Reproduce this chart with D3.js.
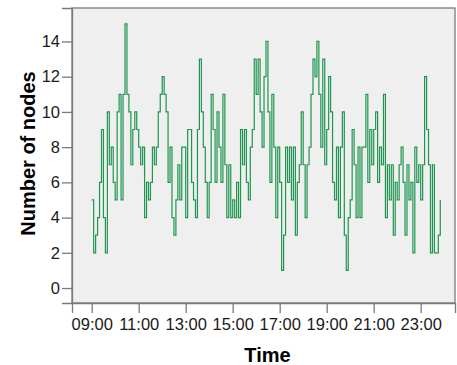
<!DOCTYPE html>
<html>
<head>
<meta charset="utf-8">
<script src="https://cdn.jsdelivr.net/npm/d3@7"></script>
<style>
  html, body { margin: 0; padding: 0; background: #ffffff; }
  svg { display: block; }
</style>
</head>
<body>
<svg id="chart" width="457" height="365"></svg>
<script>
// ---- data ----
const startTime = "09:00";
const intervalMinutes = 5;
const nodeCounts = [
  5, 2, 3, 4, 6, 9, 4, 2, 10, 7, 8, 6, 5, 10, 11, 5, 11, 15, 11, 10,
  7, 9, 10, 9, 8, 7, 8, 4, 6, 5, 6, 8, 7, 8, 10, 11, 12, 11, 10, 6,
  8, 4, 3, 5, 7, 5, 8, 8, 4, 9, 9, 6, 5, 4, 9, 13, 10, 8, 6, 4,
  6, 11, 9, 6, 10, 8, 6, 11, 7, 4, 7, 4, 5, 4, 6, 4, 9, 7, 9, 6,
  5, 8, 9, 13, 11, 13, 10, 8, 12, 14, 10, 6, 11, 8, 4, 8, 6, 1, 3, 8,
  6, 8, 5, 8, 3, 6, 7, 10, 7, 4, 7, 8, 11, 13, 12, 14, 11, 8, 13, 7,
  9, 12, 10, 6, 5, 8, 4, 8, 10, 3, 1, 4, 5, 9, 7, 4, 8, 4, 8, 8,
  11, 6, 9, 7, 9, 10, 6, 8, 7, 11, 4, 7, 5, 7, 3, 6, 5, 7, 8, 6,
  3, 7, 5, 6, 2, 8, 6, 7, 5, 7, 12, 9, 7, 2, 7, 2, 2, 3, 5
];
const xTickLabels = ["09:00", "11:00", "13:00", "15:00", "17:00", "19:00", "21:00", "23:00"];
const yTickValues = [0, 2, 4, 6, 8, 10, 12, 14];
const xTitle = "Time";
const yTitle = "Number of nodes";

// ---- helpers ----
const toMinutes = s => { const [h, m] = s.split(":").map(Number); return h * 60 + m; };
const start = toMinutes(startTime);
const series = nodeCounts.map((v, i) => ({ t: start + i * intervalMinutes, v }));

// ---- layout ----
const plot = { left: 72, right: 455, top: 8, bottom: 303 };
const svg = d3.select("#chart");

const x = d3.scaleLinear().domain([489.7, 1467.6]).range([plot.left, plot.right]);
const y = d3.scaleLinear().domain([-0.85, 15.9]).range([plot.bottom, plot.top]);

// plot background
svg.append("rect")
  .attr("x", plot.left).attr("y", plot.top)
  .attr("width", plot.right - plot.left).attr("height", plot.bottom - plot.top)
  .attr("fill", "#efefef")
  .attr("stroke", "#7a7a7a").attr("stroke-width", 1.3);

// line
const line = d3.line()
  .x(d => x(d.t)).y(d => y(d.v))
  .curve(d3.curveStepAfter);

svg.append("path")
  .datum(series)
  .attr("fill", "none")
  .attr("stroke", "#1f9650")
  .attr("stroke-width", 1.2)
  .attr("d", line);

// axes
const font = "'Liberation Sans', Arial, sans-serif";
const xAxis = d3.axisBottom(x)
  .tickValues(xTickLabels.map(toMinutes))
  .tickFormat((d, i) => xTickLabels[i])
  .tickSize(10).tickPadding(5);
const gx = svg.append("g").attr("transform", `translate(0,${plot.bottom})`).call(xAxis);

const yAxis = d3.axisLeft(y)
  .tickValues(yTickValues)
  .tickFormat(d3.format("d"))
  .tickSize(10).tickPadding(2);
const gy = svg.append("g").attr("transform", `translate(${plot.left},0)`).call(yAxis);

[gx, gy].forEach(g => {
  g.select(".domain").attr("stroke", "#7a7a7a").attr("stroke-width", 1.3);
  g.selectAll(".tick line").attr("stroke", "#7a7a7a").attr("stroke-width", 1.3);
  g.selectAll(".tick text")
    .attr("fill", "#1a1a1a")
    .style("font-family", font)
    .style("font-size", "16.5px");
});
gx.selectAll(".tick text").attr("dy", "0.71em");

// titles
svg.append("text")
  .attr("x", (plot.left + plot.right) / 2 + 4)
  .attr("y", 362)
  .attr("text-anchor", "middle")
  .style("font-family", font)
  .style("font-size", "20px")
  .style("font-weight", "bold")
  .attr("fill", "#000")
  .text(xTitle);

svg.append("text")
  .attr("transform", "translate(35,153.5) rotate(-90)")
  .attr("text-anchor", "middle")
  .style("font-family", font)
  .style("font-size", "20px")
  .style("font-weight", "bold")
  .attr("fill", "#000")
  .text(yTitle);
</script>
</body>
</html>
